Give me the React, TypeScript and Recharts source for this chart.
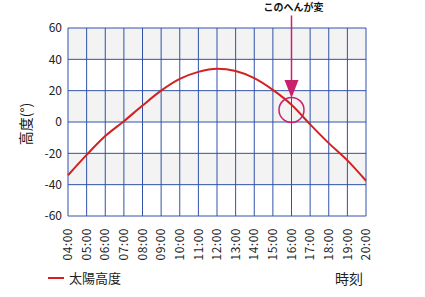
import {
  CartesianGrid,
  Line,
  LineChart,
  ReferenceDot,
  ReferenceLine,
  XAxis,
  YAxis,
} from "recharts";

const hours = [
  "04:00", "05:00", "06:00", "07:00", "08:00", "09:00", "10:00", "11:00", "12:00",
  "13:00", "14:00", "15:00", "16:00", "17:00", "18:00", "19:00", "20:00",
];
const altitude = [-34, -21, -9, 0.5, 10.5, 20, 27.5, 32, 34, 32.5, 28, 20.5, 11, -1.5, -13.5, -24.5, -37.5];
const yTicks = [-60, -40, -20, 0, 20, 40, 60];

// annotation anchor values (axis units)
const noteX = "16:00";
const noteTextY = 73;
const arrowTop = 68;
const arrowTip = 15.3;
const circleY = 7.7;

const data = hours.map((h, i) => ({ time: h, alt: altitude[i] }));

const FONT = '"Noto Sans CJK JP", "DejaVu Sans", sans-serif';
const ACCENT = "#c8206a";

function XTick({ x, y, payload }: any) {
  const ty = y + 4;
  return (
    <text
      x={x}
      y={ty}
      dy="0.35em"
      transform={`rotate(-90 ${x} ${ty})`}
      textAnchor="end"
      fontSize={12}
      letterSpacing={0.5}
      fill="#222"
      fontFamily={FONT}
    >
      {payload.value}
    </text>
  );
}

export default function App() {
  return (
    <div style={{ position: "absolute", left: 0, top: 0, width: 425, height: 297, background: "#fff", fontFamily: FONT }}>
      <LineChart width={425} height={297} data={data} margin={{ top: 28, right: 59, bottom: 0, left: 0 }}>
        <CartesianGrid
          stroke="#2f52a8"
          strokeWidth={1}
          horizontalFill={["#f3f3f3", "#ffffff"]}
          fillOpacity={1}
        />
        <XAxis
          dataKey="time"
          height={81}
          interval={0}
          axisLine={false}
          tickLine={false}
          tick={<XTick />}
        />
        <YAxis
          domain={[-60, 60]}
          ticks={yTicks}
          width={68}
          axisLine={false}
          tickLine={false}
          tickSize={4}
          tickMargin={2}
          tick={{ fill: "#222", fontSize: 12, fontFamily: FONT }}
        />
        <Line
          type="monotone"
          dataKey="alt"
          stroke="#d42020"
          strokeWidth={2}
          dot={false}
          isAnimationActive={false}
        />
        <ReferenceLine
          segment={[
            { x: noteX, y: arrowTop },
            { x: noteX, y: arrowTip + 10 },
          ]}
          stroke={ACCENT}
          strokeWidth={1.5}
          ifOverflow="visible"
        />
        <ReferenceDot
          x={noteX}
          y={arrowTip}
          ifOverflow="visible"
          shape={(p: any) => (
            <polygon
              points={`${p.cx - 7},${p.cy - 18} ${p.cx + 7},${p.cy - 18} ${p.cx},${p.cy}`}
              fill={ACCENT}
            />
          )}
        />
        <ReferenceDot
          x={noteX}
          y={circleY}
          r={12.5}
          fill="none"
          stroke={ACCENT}
          strokeWidth={1.5}
          ifOverflow="visible"
        />
        <ReferenceDot
          x={noteX}
          y={noteTextY}
          ifOverflow="visible"
          shape={(p: any) => (
            <text
              x={p.cx + 2}
              y={p.cy}
              dy="0.35em"
              textAnchor="middle"
              fontSize={10}
              fontWeight="bold"
              fill="#111"
              fontFamily={FONT}
            >
              このへんが変
            </text>
          )}
        />
      </LineChart>
      <div
        style={{
          position: "absolute",
          left: 25,
          top: 124,
          transform: "translate(-50%, -50%) rotate(-90deg)",
          fontSize: 14,
          color: "#111",
          whiteSpace: "nowrap",
        }}
      >
        高度(°)
      </div>
      <div style={{ position: "absolute", left: 48, top: 268, display: "flex", alignItems: "center", fontSize: 13, color: "#222" }}>
        <span style={{ display: "inline-block", width: 16, height: 2, background: "#d42020", marginRight: 5 }} />
        太陽高度
      </div>
      <div style={{ position: "absolute", left: 335, top: 268, fontSize: 14, color: "#222" }}>時刻</div>
    </div>
  );
}
